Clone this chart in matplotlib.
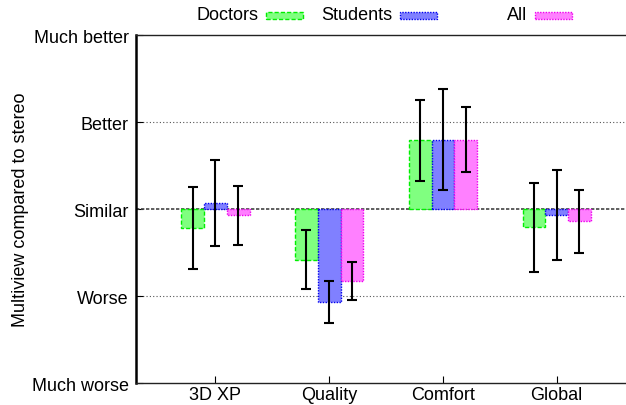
import matplotlib.pyplot as plt, numpy as np
from matplotlib.patches import Rectangle

plt.rcParams['font.family'] = ['Liberation Sans', 'DejaVu Sans']

categories = ['3D XP', 'Quality', 'Comfort', 'Global']
levels = ['Much worse', 'Worse', 'Similar', 'Better', 'Much better']

doctors = [-0.22, -0.58, 0.79, -0.21]
doctors_err = [0.47, 0.34, 0.47, 0.51]
students = [0.07, -1.07, 0.80, -0.07]
students_err = [0.49, 0.24, 0.58, 0.52]
everyone = [-0.07, -0.83, 0.80, -0.14]
everyone_err = [0.34, 0.22, 0.37, 0.36]

series = [
    ('Doctors', doctors, doctors_err, '#80ff80', '#00ee00', (0, (3, 1.5))),
    ('Students', students, students_err, '#8080ff', '#0000ee', (0, (1, 1))),
    ('All', everyone, everyone_err, '#ff80ff', '#ee00ee', (0, (1, 1))),
]

fig = plt.figure(figsize=(6.26, 4.06), dpi=100)
ax = fig.add_axes([0.217, 0.054, 0.783, 0.857])

x = np.arange(len(categories))
width = 0.2
for i, (name, vals, errs, face, edge, ls) in enumerate(series):
    pos = x + (i - 1) * width
    ax.bar(pos, vals, width, color=face, edgecolor=edge, linestyle=ls,
           linewidth=1.0, zorder=3)
    ax.errorbar(pos, vals, yerr=errs, fmt='none', ecolor='black',
                elinewidth=1.5, capsize=3.5, capthick=1.5, zorder=4)

# reference lines
for yv in (-1, 1):
    ax.axhline(yv, color='#555555', lw=0.8, ls=(0, (1, 2)), zorder=1)
ax.axhline(0, color='#444444', lw=1.2, ls=(0, (2, 1)), zorder=2)

ax.set_xlim(-0.70, 3.61)
ax.set_ylim(-2, 2)
ax.set_xticks(x)
ax.set_xticklabels(categories, fontsize=13)
ax.set_yticks([-2, -1, 0, 1, 2])
ax.set_yticklabels(levels, fontsize=13)
ax.tick_params(direction='in', length=5, width=0.8)
ax.tick_params(axis='y', pad=5)
ax.tick_params(axis='x', pad=2)
ax.set_ylabel('Multiview compared to stereo', fontsize=13, labelpad=2)
ax.spines['right'].set_visible(False)
ax.spines['left'].set_linewidth(1.8)
for s in ('top', 'bottom'):
    ax.spines[s].set_linewidth(1.0)
    ax.spines[s].set_color('#222222')

# key along the top, text right-aligned before each swatch
key_text_right = [258, 392, 527]
key_box_left = [266, 400, 535]
for (name, _, _, face, edge, ls), tx, bx in zip(series, key_text_right, key_box_left):
    fig.text(tx / 626, 1 - 16 / 406, name, ha='right', va='center', fontsize=13)
    fig.add_artist(Rectangle((bx / 626, 1 - 20 / 406), 37 / 626, 7 / 406,
                             transform=fig.transFigure, facecolor=face,
                             edgecolor=edge, linestyle=ls, linewidth=1.0))

fig.savefig('out.png', dpi=100)
